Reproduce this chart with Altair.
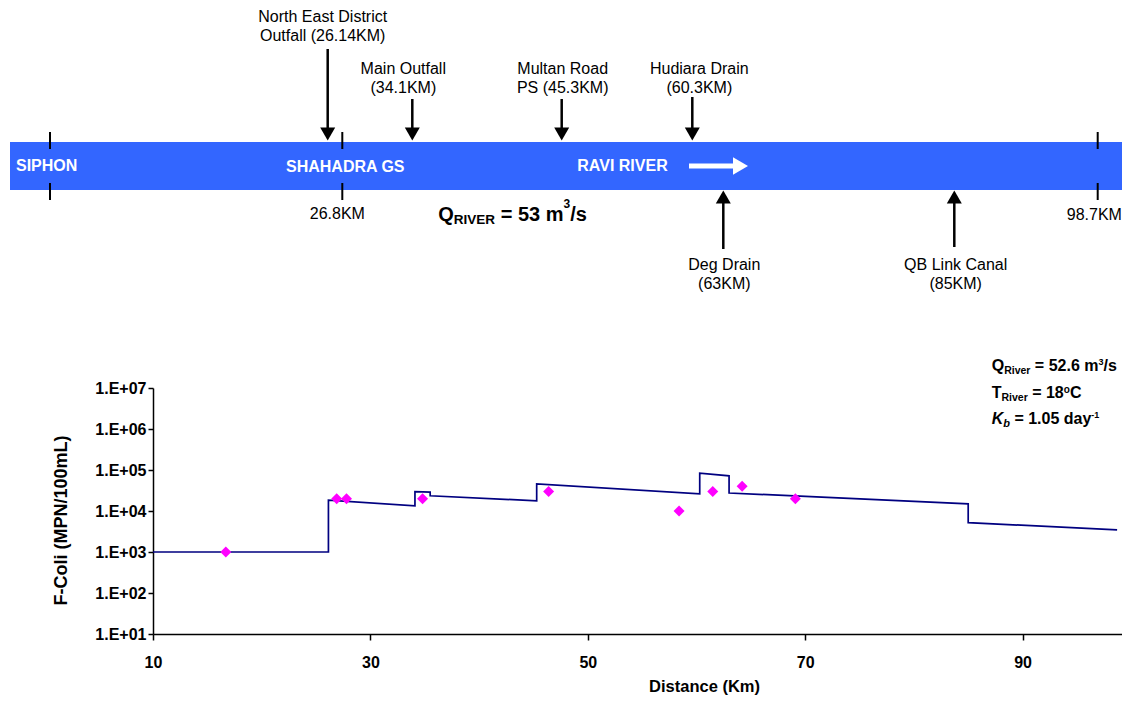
import altair as alt
import pandas as pd

# ---------------- data ----------------
# simulated F-Coli profile (step function along the river)
line_km = [10, 26.14, 26.14, 34.1, 34.1, 35.5, 35.5, 45.3, 45.3, 60.3, 60.3, 63, 63, 85, 85, 98.7]
line_fcoli = [1000, 1000, 18400, 13400, 29500, 29000, 23500, 17700, 46000, 26200,
              84000, 72000, 27500, 15000, 5200, 3470]

# observed F-Coli
obs_km = [16.7, 26.9, 27.8, 34.8, 46.4, 58.4, 61.5, 64.2, 69.1]
obs_fcoli = [1000, 20000, 20000, 20000, 30000, 10000, 30000, 40000, 20000]

# schematic stations
inflow_names = ["North East District\nOutfall (26.14KM)", "Main Outfall\n(34.1KM)",
                "Multan Road\nPS (45.3KM)", "Hudiara Drain\n(60.3KM)"]
inflow_km = [26.14, 34.1, 45.3, 60.3]
outflow_names = ["Deg Drain\n(63KM)", "QB Link Canal\n(85KM)"]
outflow_km = [63, 85]
marker_km = [0, 26.8, 98.7]
marker_labels = ["", "26.8KM", "98.7KM"]

x_ticks = [10, 30, 50, 70, 90]
y_ticks = [1e1, 1e2, 1e3, 1e4, 1e5, 1e6, 1e7]

# ---------------- layout / style ----------------
FONT = "Liberation Sans, Arial, Helvetica, sans-serif"
W, H = 969, 246
BLUE = "#3366FF"

# schematic (not to scale) : km -> pixel
sch_domain = [0, 26.14, 26.8, 34.1, 45.3, 60.3, 63, 85, 98.7]
sch_range = [-103, 174.7, 189.3, 259.3, 408.7, 539.3, 570.3, 801.3, 944.7]
sch_scale = alt.Scale(domain=sch_domain, range=sch_range, nice=False, zero=False)

inflow_shaft_top = [-339, -289, -289, -291]
inflow_label_y = [-366, -314, -314, -314]
inflow_label_dx = [-5, -9, 1, 7]
outflow_shaft_bottom = [-139, -141]
outflow_label_y = [-118, -118]
outflow_label_dx = [1, 1.4]
marker_label_dx = [0, -5, -3.4]
marker_label_y = [0, -169, -168]

one = pd.DataFrame({"k": [0]})

BW = {' ': 278, '-': 333, '.': 278, '/': 278, '=': 584,
      '0': 556, '1': 556, '2': 556, '3': 556, '4': 556, '5': 556, '6': 556, '7': 556, '8': 556, '9': 556,
      'C': 722, 'E': 667, 'I': 278, 'K': 722, 'Q': 778, 'R': 722, 'T': 611, 'V': 667,
      'a': 556, 'b': 611, 'd': 611, 'e': 556, 'i': 278, 'm': 889, 'o': 611, 'r': 389,
      's': 556, 'v': 556, 'y': 556}


def tw(s, size):
    return sum(BW.get(c, 556) for c in s) * size / 1000.0


def rich(pieces, x0, y0, color="black"):
    layers = []
    x = x0
    for txt, size, dy, style in pieces:
        lead = len(txt) - len(txt.lstrip(" "))
        x += tw(" " * lead, size)
        core = txt.strip(" ")
        layers.append(
            alt.Chart(one).mark_text(text=core, font=FONT, fontSize=size, fontWeight="bold",
                                     fontStyle=style, align="left", baseline="alphabetic",
                                     color=color)
            .encode(x=alt.value(x), y=alt.value(y0 + dy))
        )
        x += tw(core, size)
        trail = len(txt) - len(txt.rstrip(" "))
        x += tw(" " * trail, size)
    return layers


# ---------------- main plot ----------------
xscale = alt.Scale(domain=[10, 99.15], nice=False, zero=False)
yscale = alt.Scale(type="log", domain=[10, 1e7], nice=False)

xaxis = alt.Axis(values=x_ticks, title="Distance (Km)", grid=False, labelFlush=False,
                 labelFontSize=16, labelFontWeight="bold", labelPadding=14, tickSize=6,
                 titleFontSize=16.5, titleFontWeight="bold", titleX=551, titleY=57,
                 titleBaseline="alphabetic", titleAlign="center")
yaxis = alt.Axis(values=y_ticks, labelExpr="'1.E+0' + round(log(datum.value)/LN10)",
                 title="F-Coli (MPN/100mL)", grid=False, labelFlush=False,
                 labelFontSize=16, labelFontWeight="bold", labelPadding=2, tickSize=5,
                 titleFontSize=18, titleFontWeight="bold", titleX=-92, titleY=132,
                 titleAngle=270, titleBaseline="middle", titleAlign="center")

df_line = pd.DataFrame({"km": line_km, "fcoli": line_fcoli, "order": list(range(len(line_km)))})
df_obs = pd.DataFrame({"km": obs_km, "fcoli": obs_fcoli})

line = alt.Chart(df_line).mark_line(color="#000080", strokeWidth=1.7).encode(
    x=alt.X("km:Q", scale=xscale, axis=xaxis),
    y=alt.Y("fcoli:Q", scale=yscale, axis=yaxis),
    order="order:Q",
)
points = alt.Chart(df_obs).mark_point(shape="diamond", filled=True, size=121,
                                      color="#FF00FF", opacity=1).encode(
    x=alt.X("km:Q", scale=xscale, axis=xaxis),
    y=alt.Y("fcoli:Q", scale=yscale, axis=yaxis),
)
plot = alt.layer(line, points)

# ---------------- schematic ----------------
sch = []
band = alt.Chart(one).mark_rect(color=BLUE).encode(
    x=alt.value(-143), x2=alt.value(973), y=alt.value(-246), y2=alt.value(-198))

df_mark = pd.DataFrame({"km": marker_km, "label": marker_labels})
sch_x = alt.X("km:Q", scale=sch_scale, axis=None)
ticks_top = alt.Chart(df_mark).mark_rule(color="black", strokeWidth=2).encode(
    x=sch_x, y=alt.value(-256), y2=alt.value(-239))
ticks_bot = alt.Chart(df_mark).mark_rule(color="black", strokeWidth=2).encode(
    x=sch_x, y=alt.value(-205), y2=alt.value(-188))
sch += [ticks_top, ticks_bot]

for i in range(1, len(marker_km)):
    sch.append(
        alt.Chart(pd.DataFrame({"km": [marker_km[i]], "label": [marker_labels[i]]}))
        .mark_text(font=FONT, fontSize=16, align="center", baseline="alphabetic",
                   color="black", dx=marker_label_dx[i])
        .encode(x=sch_x, y=alt.value(marker_label_y[i]), text="label:N")
    )

df_in = pd.DataFrame({"km": inflow_km})
df_out = pd.DataFrame({"km": outflow_km})
sch.append(alt.Chart(df_in).mark_point(shape="triangle-down", filled=True, size=225,
                                        color="black", opacity=1)
           .encode(x=sch_x, y=alt.value(-254)))
sch.append(alt.Chart(df_out).mark_point(shape="triangle-up", filled=True, size=225,
                                         color="black", opacity=1)
           .encode(x=sch_x, y=alt.value(-191)))

for i, (nm, km) in enumerate(zip(inflow_names, inflow_km)):
    d = pd.DataFrame({"km": [km], "name": [nm]})
    sch.append(alt.Chart(d).mark_rule(color="black", strokeWidth=2.5)
               .encode(x=sch_x, y=alt.value(inflow_shaft_top[i]), y2=alt.value(-252)))
    sch.append(alt.Chart(d).mark_text(font=FONT, fontSize=16, align="center",
                                      baseline="alphabetic", lineBreak="\n", lineHeight=19,
                                      color="black", dx=inflow_label_dx[i])
               .encode(x=sch_x, y=alt.value(inflow_label_y[i]), text="name:N"))

for i, (nm, km) in enumerate(zip(outflow_names, outflow_km)):
    d = pd.DataFrame({"km": [km], "name": [nm]})
    sch.append(alt.Chart(d).mark_rule(color="black", strokeWidth=2.5)
               .encode(x=sch_x, y=alt.value(-193), y2=alt.value(outflow_shaft_bottom[i])))
    sch.append(alt.Chart(d).mark_text(font=FONT, fontSize=16, align="center",
                                      baseline="alphabetic", lineBreak="\n", lineHeight=19,
                                      color="black", dx=outflow_label_dx[i])
               .encode(x=sch_x, y=alt.value(outflow_label_y[i]), text="name:N"))

schem = alt.layer(*sch)

# white labels and flow arrow inside the river band
deco = []
for txt, x, y in [("SIPHON", -137, -217.3), ("SHAHADRA GS", 133, -216.3), ("RAVI RIVER", 424.3, -217)]:
    deco.append(alt.Chart(one).mark_text(text=txt, font=FONT, fontSize=16, fontWeight="bold",
                                         align="left", baseline="alphabetic", color="white")
                .encode(x=alt.value(x), y=alt.value(y)))
deco.append(alt.Chart(one).mark_rule(color="white", strokeWidth=5).encode(
    x=alt.value(536), x2=alt.value(581), y=alt.value(-222)))
deco.append(alt.Chart(one).mark_point(shape="triangle-right", filled=True, size=300,
                                      color="white", opacity=1)
            .encode(x=alt.value(587.5), y=alt.value(-222)))

# Q_RIVER text under the band
deco += rich([("Q", 20, 0, "normal"), ("RIVER", 13.5, 3, "normal"), (" = 53 m", 20, 0, "normal"),
              ("3", 12, -13, "normal"), ("/s", 20, 0, "normal")], 285.3, -167)

# annotation box in the plot
deco += rich([("Q", 16, 0, "normal"), ("River", 10.5, 3.6, "normal"), (" = 52.6 m", 16, 0, "normal"),
              ("3", 9, -6, "normal"), ("/s", 16, 0, "normal")], 838.7, -17.3)
deco += rich([("T", 16, 0, "normal"), ("River", 10.5, 3.6, "normal"), (" = 18", 16, 0, "normal"),
              ("o", 10, -5, "normal"), ("C", 16, 0, "normal")], 838.7, 9.5)
deco += rich([("K", 16, 0, "italic"), ("b", 11, 3, "italic"), (" = 1.05 day", 16, 0, "normal"),
              ("-1", 9, -6, "normal")], 838.7, 36)

chart = (
    alt.layer(band, plot, schem, *deco)
    .resolve_scale(x="independent")
    .properties(width=W, height=H,
                autosize=alt.AutoSizeParams(type="none"),
                padding={"left": 145, "top": 380, "right": 0, "bottom": 61})
    .configure_view(stroke=None)
    .configure_axis(labelFont=FONT, titleFont=FONT, labelColor="black", titleColor="black",
                    domainColor="black", tickColor="black", domainWidth=1.5, tickWidth=1.5)
)

chart.save("out.html", embed_options={"renderer": "svg", "actions": False})
